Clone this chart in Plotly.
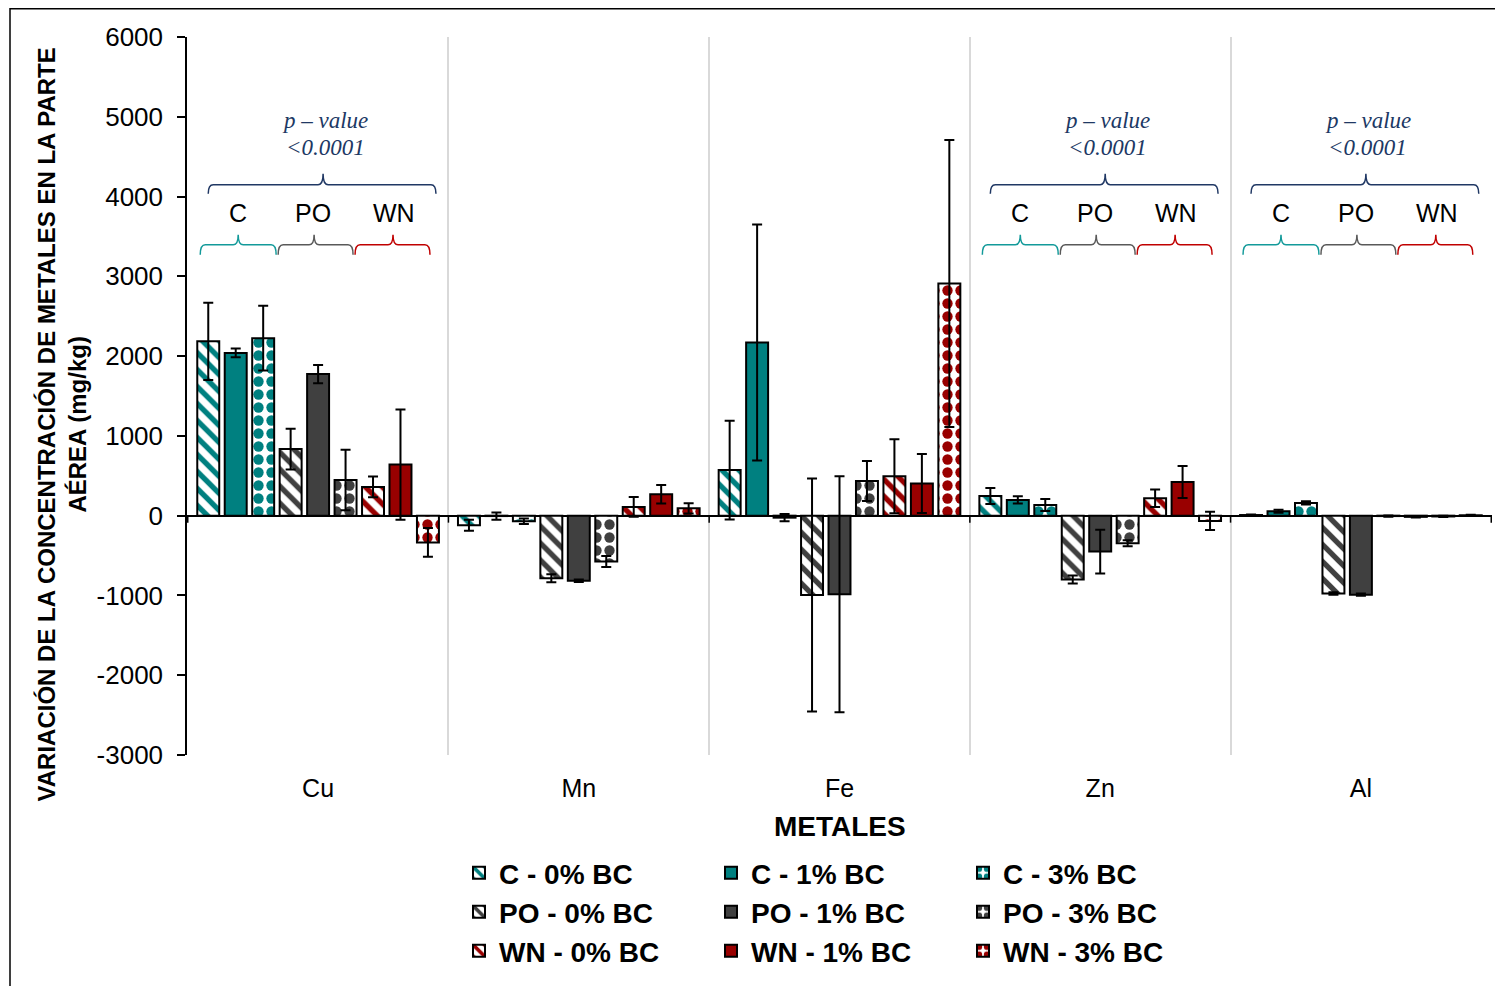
import plotly.graph_objects as go

# ---------------- data ----------------
metales = ["Cu", "Mn", "Fe", "Zn", "Al"]

series_names = ["C - 0% BC", "C - 1% BC", "C - 3% BC",
                "PO - 0% BC", "PO - 1% BC", "PO - 3% BC",
                "WN - 0% BC", "WN - 1% BC", "WN - 3% BC"]

c_0 = [2185, -120, 571, 247, 8]
c_0_err = [485, 70, 620, 100, 8]
c_1 = [2040, -5, 2170, 197, 55]
c_1_err = [55, 45, 1480, 45, 20]
c_3 = [2225, -70, -25, 134, 160]
c_3_err = [405, 35, 45, 75, 20]
po_0 = [835, -785, -995, -800, -975]
po_0_err = [255, 50, 1460, 50, 15]
po_1 = [1775, -815, -985, -450, -990]
po_1_err = [115, 15, 1478, 275, 15]
po_3 = [447, -575, 435, -345, -5]
po_3_err = [380, 70, 250, 38, 8]
wn_0 = [360, 110, 494, 218, -15]
wn_0_err = [130, 125, 465, 110, 8]
wn_1 = [640, 268, 402, 422, -10]
wn_1_err = [690, 115, 370, 200, 8]
wn_3 = [-335, 92, 2910, -66, 5]
wn_3_err = [180, 65, 1800, 115, 8]

series_values = [c_0, c_1, c_3, po_0, po_1, po_3, wn_0, wn_1, wn_3]
series_errors = [c_0_err, c_1_err, c_3_err, po_0_err, po_1_err, po_3_err,
                 wn_0_err, wn_1_err, wn_3_err]

y_tick_vals = [-3000, -2000, -1000, 0, 1000, 2000, 3000, 4000, 5000, 6000]
y_tick_text = ["-3000", "-2000", "-1000", "0", "1000", "2000", "3000", "4000", "5000", "6000"]

group_labels = ["C", "PO", "WN"]
pvalue_cats = ["Cu", "Zn", "Al"]

# ---------------- style ----------------
TEAL = "#008080"
GRAY = "#404040"
RED = "#990000"
NAVY = "#203864"
group_colors = [TEAL, GRAY, RED]
brace_colors = ["#139a9a", "#595959", "#c00000"]
SANS = "Liberation Sans, Arial, sans-serif"
SERIF = "Liberation Serif, Times New Roman, serif"

OFF = 8  # page body margin
W, H = 1495, 978
L, R, T, B = 179, 11, 29, 230
PW = W - L - R
PH = H - T - B
CAT_PX = PW / len(metales)


def py2paper(py):
    return (H - B - (py - OFF)) / PH


def px2paper(px):
    return (px - OFF - L) / PW


fig = go.Figure()

legends = ["legend", "legend2", "legend3"]
for k, name in enumerate(series_names):
    g = k // 3
    lvl = k % 3
    col = group_colors[g]
    if lvl == 0:
        pattern = dict(shape="\\", fgcolor=col, bgcolor="white", size=12,
                       solidity=0.45, fillmode="replace")
        mcolor = "white"
    elif lvl == 1:
        pattern = dict(shape="")
        mcolor = col
    else:
        pattern = dict(shape=".", fgcolor=col, bgcolor="white", size=13,
                       solidity=0.5, fillmode="replace")
        mcolor = "white"
    fig.add_trace(go.Bar(
        x=metales, y=series_values[k], name=name,
        marker=dict(color=mcolor, pattern=pattern,
                    line=dict(color="black", width=2)),
        error_y=dict(type="data", array=series_errors[k], symmetric=True,
                     color="black", thickness=2, width=5),
        legend=legends[g],
    ))

# ---------------- decorations ----------------
shapes = []
annotations = []

# outer border
shapes.append(dict(type="rect", xref="paper", yref="paper",
                   x0=px2paper(10), x1=px2paper(1500),
                   y0=py2paper(8.8), y1=py2paper(998),
                   line=dict(color="black", width=1.5), fillcolor="rgba(0,0,0,0)",
                   layer="above"))

# small category ticks on the zero line
zero_paper = 3000 / 9000
for b in range(len(metales) + 1):
    shapes.append(dict(type="line", xref="x", yref="paper",
                       x0=b - 0.5, x1=b - 0.5,
                       y0=zero_paper, y1=zero_paper - 7 / PH,
                       line=dict(color="black", width=1.5)))


def brace_path(xc, a, b, tip, y_end, y_line, y_tip, r=5):
    # x given as pixel offsets from category center, converted to data units
    def X(off):
        return xc + off / CAT_PX
    ye, yl, yt = py2paper(y_end), py2paper(y_line), py2paper(y_tip)
    return (f"M {X(a)},{ye} Q {X(a)},{yl} {X(a + r)},{yl} "
            f"L {X(tip - r)},{yl} Q {X(tip)},{yl} {X(tip)},{yt} "
            f"Q {X(tip)},{yl} {X(tip + r)},{yl} "
            f"L {X(b - r)},{yl} Q {X(b)},{yl} {X(b)},{ye}")


small_spans = [(-118, -42, -80), (-40, 35, -4), (37, 112, 75)]
label_offsets = [-80, -5, 76]
for cat in pvalue_cats:
    xc = metales.index(cat)
    shapes.append(dict(type="path", xref="x", yref="paper",
                       path=brace_path(xc, -110, 118, 5, 194, 185, 174),
                       line=dict(color=NAVY, width=1.5)))
    for (a, b, tip), colr in zip(small_spans, brace_colors):
        shapes.append(dict(type="path", xref="x", yref="paper",
                           path=brace_path(xc, a, b, tip, 255, 245, 235),
                           line=dict(color=colr, width=1.5)))
    for lab, off in zip(group_labels, label_offsets):
        annotations.append(dict(x=xc + off / CAT_PX, y=py2paper(213), xref="x", yref="paper",
                                text=lab, showarrow=False, xanchor="center", yanchor="middle",
                                font=dict(family=SANS, size=25, color="black")))
    annotations.append(dict(x=xc + 7 / CAT_PX, y=py2paper(121), xref="x", yref="paper",
                            text="p – value", showarrow=False, xanchor="center", yanchor="middle",
                            font=dict(family=SERIF, size=23, color=NAVY, style="italic")))
    annotations.append(dict(x=xc + 7 / CAT_PX, y=py2paper(148), xref="x", yref="paper",
                            text="&lt;0.0001", showarrow=False, xanchor="center", yanchor="middle",
                            font=dict(family=SERIF, size=23, color=NAVY, style="italic")))

# axis titles
annotations.append(dict(x=px2paper(62), y=py2paper(425), xref="paper", yref="paper",
                        text="VARIACIÓN DE LA CONCENTRACIÓN DE METALES EN LA PARTE<br>AÉREA (mg/kg)",
                        textangle=-90, showarrow=False, xanchor="center", yanchor="middle",
                        font=dict(family=SANS, size=24, color="black", weight="bold")))
annotations.append(dict(x=0.5, y=py2paper(828), xref="paper", yref="paper",
                        text="METALES", showarrow=False, xanchor="center", yanchor="middle",
                        font=dict(family=SANS, size=28, color="black", weight="bold")))

legend_common = dict(orientation="h", xanchor="left", yanchor="middle",
                     x=px2paper(459), bgcolor="rgba(0,0,0,0)",
                     entrywidth=207, entrywidthmode="pixels",
                     font=dict(family=SANS, size=28, color="black", weight="bold"),
                     traceorder="normal")

fig.update_layout(
    width=W, height=H,
    margin=dict(l=L, r=R, t=T, b=B, pad=0),
    paper_bgcolor="white", plot_bgcolor="white",
    barmode="group", bargap=0.052, bargroupgap=0.2,
    showlegend=True,
    legend=dict(legend_common, y=py2paper(873)),
    legend2=dict(legend_common, y=py2paper(912)),
    legend3=dict(legend_common, y=py2paper(951)),
    xaxis=dict(type="category", tickson="boundaries", showgrid=True,
               gridcolor="#d9d9d9", gridwidth=2, ticks="", showline=False,
               zeroline=False, ticklabelstandoff=16,
               tickfont=dict(family=SANS, size=25, color="black")),
    yaxis=dict(range=[-3000, 6000], tickvals=y_tick_vals, ticktext=y_tick_text,
               showgrid=False, zeroline=True, zerolinecolor="black", zerolinewidth=1.5,
               showline=True, linecolor="black", linewidth=1.5,
               ticks="outside", ticklen=8, tickcolor="black", tickwidth=1.5,
               ticklabelstandoff=9,
               tickfont=dict(family=SANS, size=26, color="black")),
    shapes=shapes,
    annotations=annotations,
)

fig.write_html("out.html")
